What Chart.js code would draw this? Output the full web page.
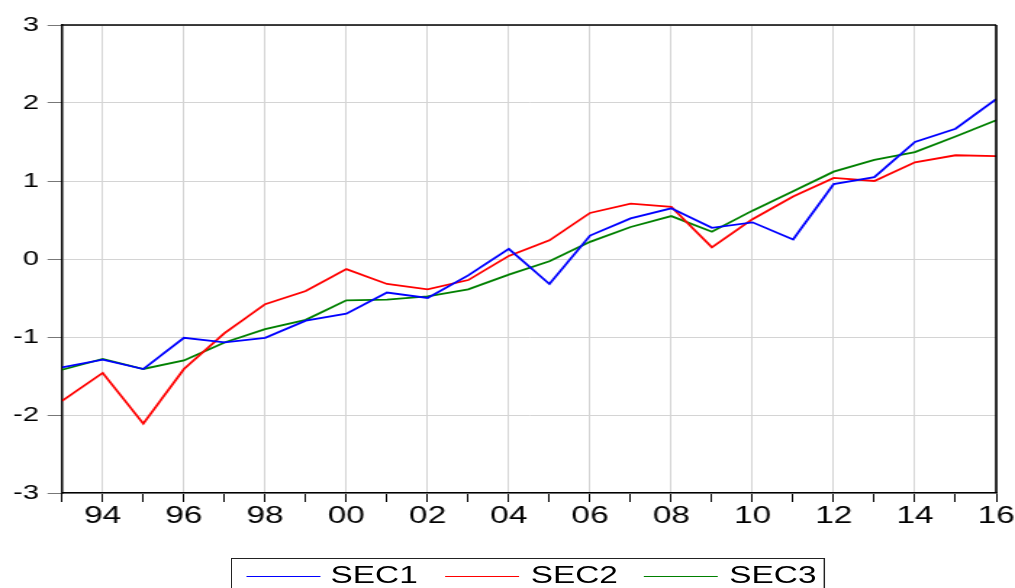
<!DOCTYPE html>
<html>
<head>
<meta charset="utf-8">
<script src="https://cdn.jsdelivr.net/npm/chart.js@4.4.1/dist/chart.umd.min.js"></script>
<style>
    html, body { margin: 0; padding: 0; background: #fff; overflow: hidden; }
    /* the reference is a horizontally stretched picture, so the whole chart is drawn narrow and stretched */
    #wrap {
        position: relative;
        width: 700px;
        height: 588px;
        transform: scaleX(1.45);
        transform-origin: 0 0;
    }
    #chart { position: absolute; left: 0; top: 0; }
    #legend {
        position: absolute;
        left: 159px;
        top: 558px;
        width: 410px;
        height: 40px;
        border: 1px solid #222;
        box-sizing: border-box;
        font-family: "Liberation Sans", Arial, sans-serif;
        font-size: 23px;
    }
    .key { position: absolute; top: 17px; height: 1.4px; }
    .lbl { position: absolute; top: 5px; line-height: 23px; color: #000; }
</style>
</head>
<body>
<div id="wrap">
    <canvas id="chart"></canvas>
    <div id="legend"></div>
</div>
<script>
// years 1993 - 2016
const years = [1993, 1994, 1995, 1996, 1997, 1998, 1999, 2000, 2001, 2002, 2003, 2004,
               2005, 2006, 2007, 2008, 2009, 2010, 2011, 2012, 2013, 2014, 2015, 2016];

const sec1 = [-1.39, -1.29, -1.41, -1.01, -1.07, -1.01, -0.79, -0.70, -0.43, -0.50, -0.21, 0.13,
              -0.32, 0.30, 0.52, 0.65, 0.40, 0.47, 0.25, 0.96, 1.05, 1.50, 1.67, 2.05];
const sec2 = [-1.82, -1.46, -2.11, -1.41, -0.95, -0.58, -0.41, -0.13, -0.32, -0.39, -0.27, 0.04,
              0.24, 0.59, 0.71, 0.67, 0.15, 0.51, 0.80, 1.04, 1.00, 1.24, 1.33, 1.32];
const sec3 = [-1.42, -1.28, -1.41, -1.30, -1.07, -0.90, -0.78, -0.53, -0.52, -0.48, -0.39, -0.20,
              -0.03, 0.22, 0.41, 0.55, 0.35, 0.62, 0.87, 1.12, 1.27, 1.37, 1.57, 1.78];

const seriesNames = ['SEC1', 'SEC2', 'SEC3'];
const seriesColors = ['#0000ff', '#ff0000', '#008000'];
const yTicks = [-3, -2, -1, 0, 1, 2, 3];

const toPoints = vals => years.map((yr, i) => ({ x: yr, y: vals[i] }));

// top and right frame of the plot box
const frame = {
    id: 'frame',
    afterDraw(chart) {
        const { ctx, chartArea: a } = chart;
        ctx.save();
        ctx.strokeStyle = '#000';
        ctx.lineWidth = 1.3;
        ctx.beginPath();
        ctx.moveTo(a.left, a.top);
        ctx.lineTo(a.right, a.top);
        ctx.stroke();
        ctx.lineWidth = 1.6;
        ctx.beginPath();
        ctx.moveTo(a.right, a.top);
        ctx.lineTo(a.right, a.bottom);
        ctx.stroke();
        ctx.restore();
    }
};

const ctx = document.getElementById('chart').getContext('2d');
const chart = new Chart(ctx, {
    type: 'line',
    data: {
        datasets: [sec1, sec2, sec3].map((vals, i) => ({
            label: seriesNames[i],
            data: toPoints(vals),
            borderColor: seriesColors[i],
            backgroundColor: seriesColors[i],
            borderWidth: 1.8,
            pointRadius: 0,
            tension: 0,
            fill: false
        }))
    },
    options: {
        responsive: true,
        maintainAspectRatio: false,
        animation: false,
        layout: { padding: { left: 0, top: 25, right: 13, bottom: 55 } },
        plugins: {
            legend: { display: false },
            tooltip: { enabled: false }
        },
        scales: {
            x: {
                type: 'linear',
                min: 1993,
                max: 2016,
                afterFit: scale => {
                    scale.height = 40;
                    scale.paddingLeft = 0;
                    scale.paddingRight = 0;
                },
                border: { display: true, color: '#000', width: 1.5 },
                grid: {
                    color: c => (c.tick && c.tick.value % 2 === 0) ? '#d4d4d4' : 'rgba(0,0,0,0)',
                    tickColor: '#000',
                    tickLength: 9,
                    lineWidth: 1
                },
                ticks: {
                    stepSize: 1,
                    autoSkip: false,
                    maxRotation: 0,
                    minRotation: 0,
                    padding: 3,
                    color: '#000',
                    font: { family: '"Liberation Sans", Arial, sans-serif', size: 23, lineHeight: 1 },
                    callback: v => v % 2 === 0 ? String(v % 100).padStart(2, '0') : ''
                }
            },
            y: {
                min: -3,
                max: 3,
                afterFit: scale => {
                    scale.width = 42.8;
                    scale.paddingTop = 0;
                    scale.paddingBottom = 0;
                },
                afterBuildTicks: scale => { scale.ticks = yTicks.map(v => ({ value: v })); },
                border: { display: true, color: '#000', width: 1.5 },
                grid: {
                    color: '#d4d4d4',
                    tickColor: '#777',
                    tickLength: 10,
                    lineWidth: 1
                },
                ticks: {
                    padding: 6,
                    color: '#000',
                    font: { family: '"Liberation Sans", Arial, sans-serif', size: 20 }
                }
            }
        }
    },
    plugins: [frame]
});

// legend box under the chart
const legend = document.getElementById('legend');
const keyLeft = [10, 147, 284];
const lblLeft = [68, 206, 343];
seriesNames.forEach((name, i) => {
    const key = document.createElement('div');
    key.className = 'key';
    key.style.left = keyLeft[i] + 'px';
    key.style.width = '51px';
    key.style.background = seriesColors[i];
    legend.appendChild(key);
    const lbl = document.createElement('div');
    lbl.className = 'lbl';
    lbl.style.left = lblLeft[i] + 'px';
    lbl.textContent = name;
    legend.appendChild(lbl);
});
</script>
</body>
</html>
